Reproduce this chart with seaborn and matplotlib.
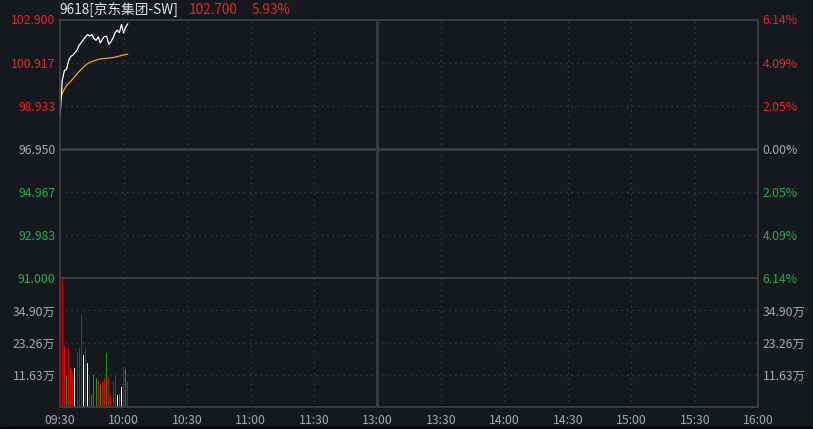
import matplotlib
matplotlib.use("Agg")
import matplotlib.pyplot as plt
from matplotlib.patches import Rectangle
import seaborn as sns
import pandas as pd

# ---------------- data ----------------
minutes = list(range(33))  # minutes after 09:30
price = [98.50, 100.10, 100.55, 100.60, 101.00, 101.20, 101.26, 101.37, 101.50, 101.72,
         101.84, 101.98, 102.10, 102.21, 102.15, 102.20, 102.03, 101.94, 102.10, 101.82,
         102.00, 102.13, 102.12, 101.76, 101.88, 102.05, 102.30, 102.41, 102.30, 102.67,
         102.28, 102.56, 102.70]
avg_price = [99.15, 99.50, 99.70, 99.85, 99.97, 100.06, 100.17, 100.28, 100.40, 100.51,
             100.61, 100.71, 100.80, 100.87, 100.92, 100.96, 101.00, 101.03, 101.06, 101.09,
             101.10, 101.11, 101.12, 101.13, 101.14, 101.15, 101.17, 101.19, 101.22, 101.25,
             101.27, 101.29, 101.31]
volume = [44.3, 46.5, 21.9, 11.6, 21.4, 14.2, 12.7, 14.2, 20.0, 21.1,
          33.4, 18.9, 21.4, 16.0, 11.3, 4.4, 11.6, 10.5, 9.4, 8.0,
          9.1, 10.5, 19.6, 10.9, 4.4, 9.1, 11.3, 4.4, 4.7, 7.3,
          14.5, 13.8, 9.4]  # 万
direction = ["up", "up", "up", "down", "up", "up", "up", "flat", "up", "up",
             "up", "flat", "up", "flat", "up", "down", "down", "down", "up", "down",
             "up", "up", "down", "up", "up", "up", "up", "flat", "down", "flat",
             "up", "down", "up"]

prev_close = 96.950
price_ticks = [102.900, 100.917, 98.933, 96.950, 94.967, 92.983, 91.000]
pct_labels = ["6.14%", "4.09%", "2.05%", "0.00%", "2.05%", "4.09%", "6.14%"]
vol_ticks = [11.63, 23.26, 34.90]
vol_labels = ["11.63万", "23.26万", "34.90万"]
time_pos = [0, 30, 60, 90, 120, 150, 180, 210, 240, 270, 300, 330]
time_labels = ["09:30", "10:00", "10:30", "11:00", "11:30", "13:00",
               "13:30", "14:00", "14:30", "15:00", "15:30", "16:00"]
title_code = "9618[京东集团-SW]"
title_price = "102.700"
title_pct = "5.93%"

# ---------------- style ----------------
BG = "#15181d"
GRID = "#3a3d43"
FRAME = "#3d3e42"
RED = "#e8252d"
GREEN = "#1fae4c"
GREY = "#a3a8b0"
sns.set_theme(style="dark", rc={"axes.facecolor": BG, "figure.facecolor": BG})
plt.rcParams['font.family'] = ['Noto Sans CJK SC', 'DejaVu Sans']

W, H = 813, 429
fig = plt.figure(figsize=(W / 100, H / 100), dpi=100, facecolor=BG)
L, R = 59.5, 758.3
T, MID, B = 19.5, 278.3, 406.7
XMIN, XMAX = -0.3, 330
ax_p = fig.add_axes([L / W, (H - MID) / H, (R - L) / W, (MID - T) / H])
ax_v = fig.add_axes([L / W, (H - B) / H, (R - L) / W, (B - MID) / H])

fig.patches.append(Rectangle((0, 0), 1, 2.5 / H, transform=fig.transFigure,
                             color="#050505", zorder=0))

# ---------------- price panel ----------------
df_p = pd.DataFrame({"minute": minutes, "price": price, "avg": avg_price})
sns.lineplot(data=df_p, x="minute", y="avg", ax=ax_p, color="#f2a516", lw=0.9, zorder=3)
sns.lineplot(data=df_p, x="minute", y="price", ax=ax_p, color="white", lw=0.9, zorder=4)

ax_p.set_xlim(XMIN, XMAX)
ax_p.set_ylim(91.0, 102.9)
for t in time_pos[1:-1]:
    if t == 150:
        ax_p.axvline(t, color=FRAME, lw=2, zorder=1)
    else:
        ax_p.axvline(t, color=GRID, lw=1, ls=(0, (1, 3)), zorder=1)
for y in price_ticks[1:-1]:
    if abs(y - prev_close) < 1e-6:
        ax_p.axhline(y, color=FRAME, lw=2, zorder=1)
    else:
        ax_p.axhline(y, color=GRID, lw=1, ls=(0, (1, 3)), zorder=1)

ax_p.set_xlabel("")
ax_p.set_ylabel("")
ax_p.set_xticks([])
ax_p.set_yticks(price_ticks)
ax_p.set_yticklabels([f"{v:.3f}" for v in price_ticks])
ax_p.tick_params(axis="y", length=0, pad=3, labelsize=8.8)


def col_for(v):
    if abs(v - prev_close) < 1e-6:
        return GREY
    return RED if v > prev_close else GREEN


for lab, v in zip(ax_p.get_yticklabels(), price_ticks):
    lab.set_color(col_for(v))

ax_p2 = ax_p.twinx()
ax_p2.set_ylim(91.0, 102.9)
ax_p2.set_yticks(price_ticks)
ax_p2.set_yticklabels(pct_labels)
ax_p2.tick_params(axis="y", length=0, pad=3, labelsize=8.8)
for lab, v in zip(ax_p2.get_yticklabels(), price_ticks):
    lab.set_color(col_for(v))
ax_p2.grid(False)

# ---------------- volume panel ----------------
px_per_min = (R - L) / (XMAX - XMIN)
df_v = pd.DataFrame({"minute": minutes, "vol": volume, "dir": direction})
sns.barplot(data=df_v, x="minute", y="vol", hue="dir", ax=ax_v, native_scale=True,
            dodge=False, width=1.0 / px_per_min, errorbar=None, legend=False, saturation=1,
            palette={"up": "#e00000", "down": "#119a1a", "flat": "#ffffff"},
            linewidth=0, zorder=3)
for p in ax_v.patches:
    p.set_antialiased(False)
ax_v.set_xlim(XMIN, XMAX)
ax_v.set_ylim(0, 46.53)
for t in time_pos[1:-1]:
    if t == 150:
        ax_v.axvline(t, color=FRAME, lw=2, zorder=1)
    else:
        ax_v.axvline(t, color=GRID, lw=1, ls=(0, (1, 3)), zorder=1)
for y in vol_ticks:
    ax_v.axhline(y, color=GRID, lw=1, ls=(0, (1, 3)), zorder=1)

ax_v.set_xlabel("")
ax_v.set_ylabel("")
ax_v.set_xticks(time_pos)
ax_v.set_xticklabels(time_labels)
ax_v.set_yticks(vol_ticks)
ax_v.set_yticklabels(vol_labels)
ax_v.tick_params(axis="x", length=0, pad=5, labelsize=8.8, colors=GREY)
ax_v.tick_params(axis="y", length=0, pad=3, labelsize=8.8, colors=GREY)

ax_v2 = ax_v.twinx()
ax_v2.set_ylim(0, 46.53)
ax_v2.set_yticks(vol_ticks)
ax_v2.set_yticklabels(vol_labels)
ax_v2.tick_params(axis="y", length=0, pad=3, labelsize=8.8, colors=GREY)
ax_v2.grid(False)

for a in (ax_p, ax_p2, ax_v, ax_v2):
    a.grid(False)
    for s in a.spines.values():
        s.set_color(FRAME)
        s.set_linewidth(1.2)
        s.set_visible(True)

# ---------------- title ----------------
ty = (H - 10.5) / H
fig.text(59 / W, ty, title_code, color="#e4e4e4", fontsize=9.8, va="center", ha="left")
fig.text(189 / W, ty, title_price, color=RED, fontsize=9.8, va="center", ha="left")
fig.text(252 / W, ty, title_pct, color=RED, fontsize=9.8, va="center", ha="left")

fig.savefig("out.png", dpi=100, facecolor=BG)
